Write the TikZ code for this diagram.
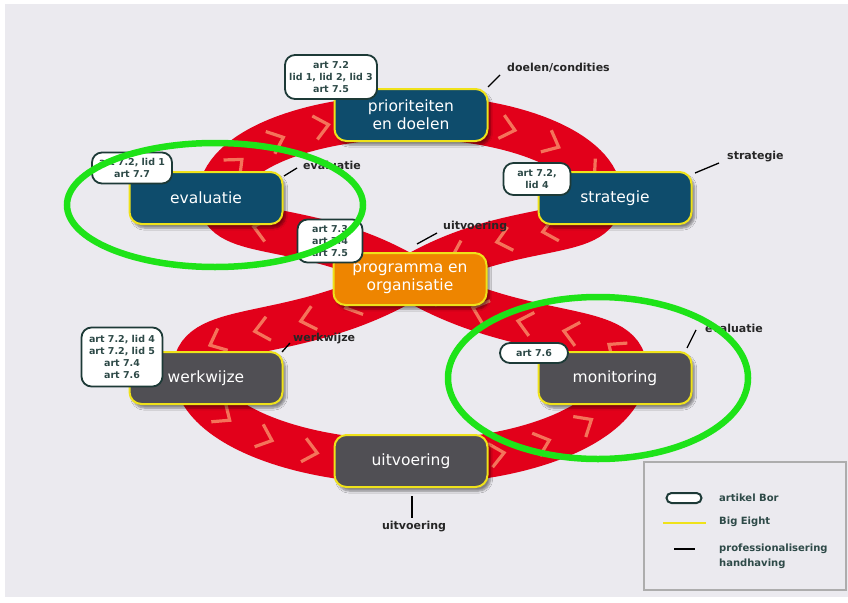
\documentclass[tikz,border=0pt]{standalone}
\usepackage{fontspec}
\setmainfont{DejaVu Sans}
\usetikzlibrary{decorations.markings,shadows.blur}

\definecolor{bandred}{HTML}{E2001A}
\definecolor{chevred}{HTML}{F4735A}
\definecolor{boxblue}{HTML}{0E4C6C}
\definecolor{boxgray}{HTML}{504F54}
\definecolor{boxorange}{HTML}{EE8500}
\definecolor{rimyellow}{HTML}{EFE21A}
\definecolor{borgreen}{HTML}{1D3A37}
\definecolor{bortext}{HTML}{2E4A48}
\definecolor{bggray}{HTML}{EBEAEF}
\definecolor{marker}{HTML}{1EE318}
\definecolor{legframe}{HTML}{ADADAD}

\begin{document}
\begin{tikzpicture}[
    x=1pt, y=-1pt,
    fase/.style={
        draw=rimyellow, line width=2pt, rounded corners=12pt,
        minimum width=153pt, minimum height=52pt, align=center,
        text=white, font=\fontsize{15.5}{18}\selectfont,
        blur shadow={shadow xshift=3pt, shadow yshift=-4pt,
            shadow opacity=45, shadow blur steps=6}
    },
    bor/.style={
        draw=borgreen, line width=1.8pt, fill=white, rounded corners=10pt,
        align=center, text=bortext, inner sep=2pt,
        font=\bfseries\fontsize{9.5}{12}\selectfont
    },
    tag/.style={anchor=west, inner sep=0pt, text=black!85,
        font=\bfseries\fontsize{11}{14}\selectfont},
    legtext/.style={anchor=west, inner sep=0pt, text=bortext, align=left,
        font=\bfseries\fontsize{10}{15}\selectfont}
]
\tikzstyle{band} = [draw=bandred, line width=44pt]
\tikzstyle{chev} = [draw=chevred, line width=3.2pt, line join=miter]
\tikzstyle{tick} = [draw=black, line width=1.3pt]
\tikzstyle{ring} = [draw=marker, line width=6.5pt]

\useasboundingbox (0,0) rectangle (848,602);
\fill[white] (0,0) rectangle (848,602);
\fill[bggray] (5,4) rectangle (848,597);

% The big eight with its arrows
\draw[band, postaction={decorate}, decoration={markings,
    mark=between positions 18pt and -10pt step 47pt with
    {\draw[chev] (-8pt,12pt) -- (6pt,0pt) -- (-8pt,-12pt);}}]
    (410,278) .. controls (300,344) and (195,320) .. (195,370)
    .. controls (195,421) and (292,462) .. (410,462)
    .. controls (528,462) and (625,421) .. (625,370)
    .. controls (625,320) and (520,344) .. (410,278)
    .. controls (310,218) and (220,242) .. (220,197)
    .. controls (220,153) and (305,117) .. (410,117)
    .. controls (515,117) and (600,153) .. (600,197)
    .. controls (600,242) and (510,218) .. (410,278);

% Phases
\node[fase, fill=boxblue] (prio) at (411,115) {prioriteiten\\en doelen};
\node[fase, fill=boxblue] (eval) at (206,198) {evaluatie};
\node[fase, fill=boxblue] (strat) at (615,198) {strategie};
\node[fase, fill=boxorange] (progr) at (410,279) {programma en\\organisatie};
\node[fase, fill=boxgray] (werk) at (206,378) {werkwijze};
\node[fase, fill=boxgray] (monit) at (615,378) {monitoring};
\node[fase, fill=boxgray] (uitv) at (411,461) {uitvoering};

% Articles of the Bor
\node[bor, minimum width=92pt, minimum height=44pt] (bprio) at (331,77)
    {art 7.2\\lid 1, lid 2, lid 3\\art 7.5};
\node[bor, minimum width=80pt, minimum height=31pt] (beval) at (132,168)
    {art 7.2, lid 1\\art 7.7};
\node[bor, minimum width=67pt, minimum height=32pt] (bstrat) at (537,179)
    {art 7.2,\\lid 4};
\node[bor, minimum width=65pt, minimum height=43pt] (bprog) at (330,241)
    {art 7.3\\art 7.4\\art 7.5};
\node[bor, minimum width=81pt, minimum height=59pt] (bwerk) at (122,357)
    {art 7.2, lid 4\\art 7.2, lid 5\\art 7.4\\art 7.6};
\node[bor, minimum width=68pt, minimum height=20pt] (bmonit) at (534,353)
    {art 7.6};

% Professionalisering handhaving
\node[tag] (tdoel) at (507,68) {doelen/condities};
\draw[tick] (488,87) -- (500,75);
\node[tag] (teval) at (303,165) {evaluatie};
\draw[tick] (284,176) -- (297,168);
\node[tag] (tstrat) at (727,157) {strategie};
\draw[tick] (695,173) -- (719,163);
\node[tag] (tprog) at (443,227) {uitvoering};
\draw[tick] (417,244) -- (437,233);
\node[tag] (twerk) at (293,339) {werkwijze};
\draw[tick] (282,352) -- (290,343);
\node[tag] (tmonit) at (705,328) {evaluatie};
\draw[tick] (687,348) -- (696,330);
\node[tag, anchor=center] (tuitv) at (414,527) {uitvoering};
\draw[tick] (412,496) -- (412,518);

% Legend
\draw[legframe, line width=1.5pt] (644,462) rectangle (846,590);
\node[draw=borgreen, line width=2pt, fill=white, rounded corners=5pt,
    minimum width=35pt, minimum height=10pt, inner sep=0pt] (lbor) at (684,498) {};
\node[legtext] (lbortxt) at (719,498) {artikel Bor};
\draw[rimyellow, line width=2pt] (663,523) -- (706,523);
\node[legtext] (leight) at (719,522) {Big Eight};
\draw[tick] (674,549) -- (695,549);
\node[legtext] (lprof) at (719,556) {professionalisering\\handhaving};

% Highlights
\draw[ring] (215,205) ellipse [x radius=148, y radius=62];
\draw[ring] (598,378) ellipse [x radius=150, y radius=81];
\end{tikzpicture}
\end{document}
